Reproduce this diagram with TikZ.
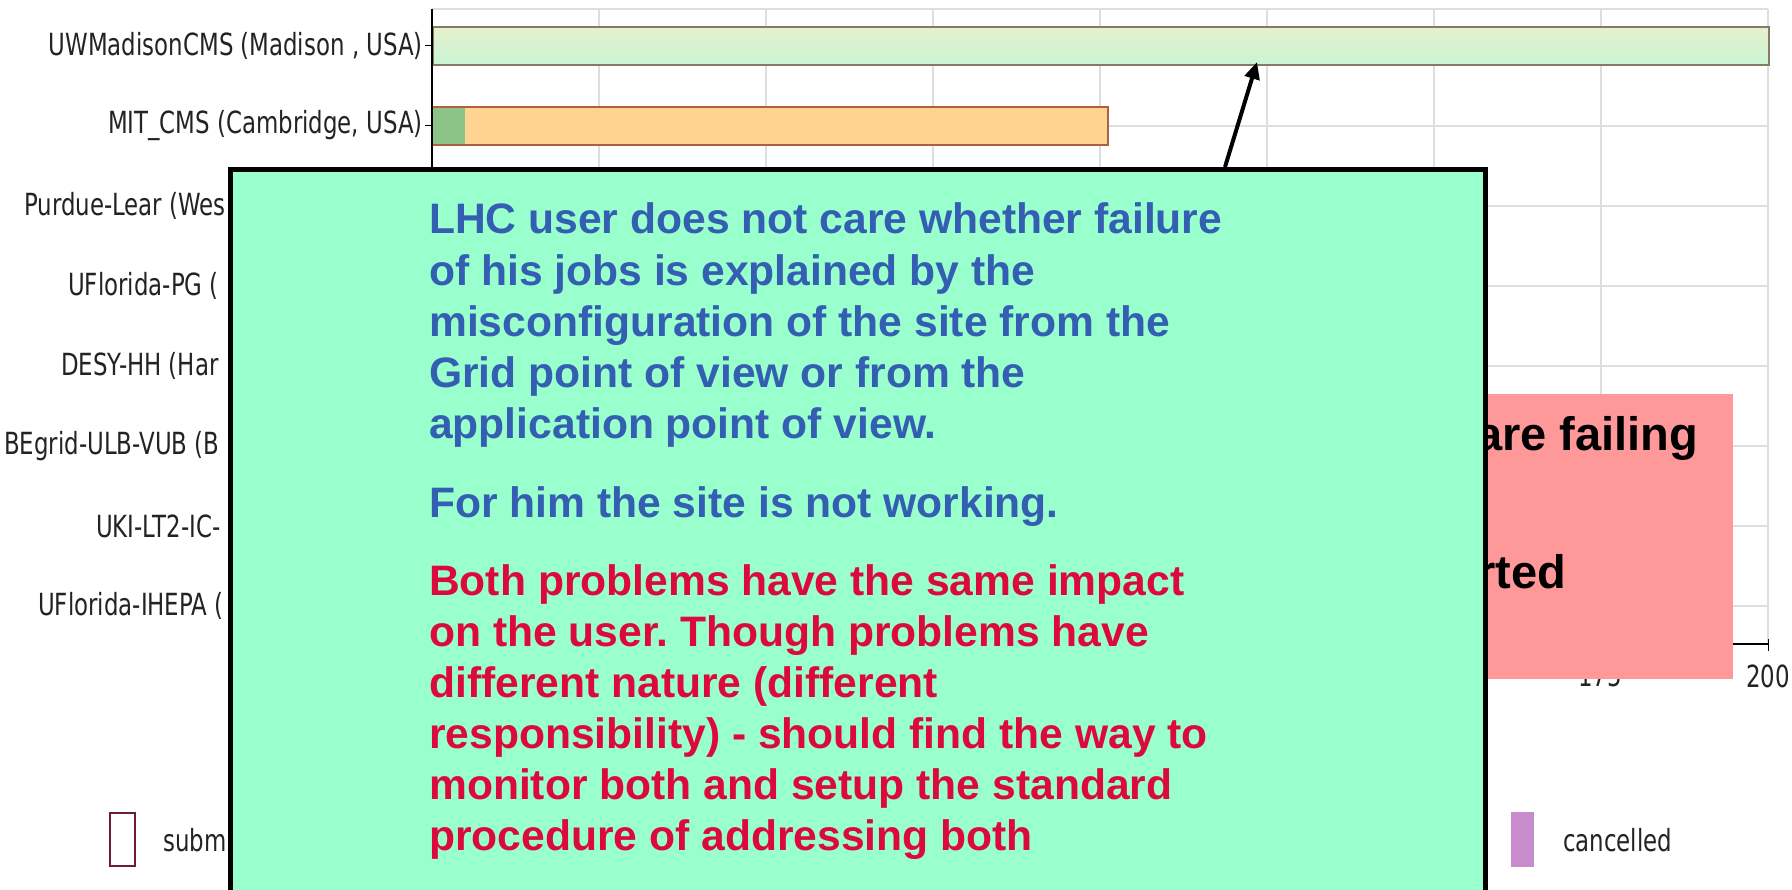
\documentclass[tikz,border=0pt]{standalone}
\usepackage{fontspec}
\setmainfont{Liberation Sans}
\newfontfamily\lblfont[FakeStretch=0.75]{DejaVu Sans}
\usetikzlibrary{arrows.meta}
\definecolor{boxgreen}{RGB}{153,255,204}
\definecolor{boxpink}{RGB}{255,153,153}
\definecolor{txtblue}{RGB}{51,94,178}
\definecolor{txtred}{RGB}{220,10,60}
\definecolor{barborder}{RGB}{133,123,98}
\definecolor{uwtop}{RGB}{230,240,205}
\definecolor{uwbot}{RGB}{200,245,212}
\definecolor{mitborder}{RGB}{176,96,64}
\definecolor{mitfill}{RGB}{255,212,145}
\definecolor{mitgreen}{RGB}{140,195,135}
\definecolor{gridgray}{RGB}{222,222,222}
\definecolor{lblgray}{RGB}{35,35,35}
\definecolor{cancelpurple}{RGB}{200,140,205}
\definecolor{submborder}{RGB}{110,30,50}
\tikzset{
  lbl/.style={font=\lblfont\fontsize{30.5}{36}\selectfont, text=lblgray, inner sep=0pt},
  blueline/.style={anchor=base west, inner sep=0pt, font={\fontsize{42.6}{51}\selectfont\bfseries}, text=txtblue},
  redline/.style={blueline, text=txtred},
  pinkline/.style={anchor=base west, inner sep=0pt, font={\fontsize{47}{56}\selectfont\bfseries}, text=black},
  gridline/.style={draw=gridgray, line width=1.2pt},
  axisline/.style={draw=black, line width=1.5pt},
  tickline/.style={draw=black, line width=1pt},
}
\frenchspacing
\begin{document}
\begin{tikzpicture}[x=1pt,y=-1pt]
\useasboundingbox (0,0) rectangle (1792,890);
\clip (0,0) rectangle (1792,890);
\fill[white] (0,0) rectangle (1792,890);
% grid
\foreach \k in {1,...,8} \draw[gridline] (432+167*\k,9) -- (432+167*\k,644);
\foreach \i in {1,...,7} \draw[gridline] (432,46+80*\i) -- (1768,46+80*\i);
\draw[gridline] (432,9) -- (1768,9);
% bars
\node[draw=barborder, line width=1.5pt, top color=uwtop, bottom color=uwbot, minimum width=1336pt, minimum height=38pt, anchor=west, inner sep=0pt] (uwbar) at (432,46) {};
\node[draw=mitborder, line width=1.5pt, fill=mitfill, minimum width=675pt, minimum height=38pt, anchor=west, inner sep=0pt] (mitbar) at (432,126) {};
\node[fill=mitgreen, minimum width=32pt, minimum height=36pt, anchor=west, inner sep=0pt] (mitok) at (433,126) {};
% axes
\draw[axisline] (432,9) -- (432,644) -- (1768,644);
\foreach \k in {0,...,8} \draw[tickline] (432+167*\k,639) -- (432+167*\k,651);
\foreach \i in {0,...,7} \draw[tickline] (425,46+80*\i) -- (432,46+80*\i);
% row labels
\node[lbl, anchor=east] (l1) at (423,46) {UWMadisonCMS (Madison , USA)};
\node[lbl, anchor=east] (l2) at (423,126) {MIT\_CMS (Cambridge, USA)};
\node[lbl, anchor=west] (l3) at (24,206) {Purdue-Lear (Wes};
\node[lbl, anchor=west] (l4) at (68,286) {UFlorida-PG (};
\node[lbl, anchor=west] (l5) at (61,366) {DESY-HH (Har};
\node[lbl, anchor=west] (l6) at (4,446) {BEgrid-ULB-VUB (B};
\node[lbl, anchor=west] (l7) at (96,526) {UKI-LT2-IC-};
\node[lbl, anchor=west] (l8) at (38,606) {UFlorida-IHEPA (};
% x tick labels
\node[lbl] (x175) at (1600,676) {175};
\node[lbl] (x200) at (1768,676) {200};
% legend
\node[draw=submborder, line width=2pt, fill=white, minimum width=25pt, minimum height=53pt, inner sep=0pt] (legsub) at (122.5,839.5) {};
\node[lbl, anchor=base west] (legsubt) at (163,851) {subm};
\node[fill=cancelpurple, minimum width=23pt, minimum height=55pt, inner sep=0pt] (legcan) at (1522.5,839.5) {};
\node[lbl, anchor=base west] (legcant) at (1563,851) {cancelled};
% pink box
\node[fill=boxpink, minimum width=433pt, minimum height=285pt, anchor=north west, inner sep=0pt] (pbox) at (1300,394) {};
\node[pinkline] (p1) at (1476,451) {are failing};
\node[pinkline] (p2) at (1477,588) {rted};
% arrow
\coordinate (atail) at (1225,167);
\coordinate (atip) at (1257,62);
\draw[line width=4pt, -{Triangle[length=17pt,width=15pt]}] (atail) -- (atip);
% green box
\node[draw=black, line width=5pt, fill=boxgreen, anchor=north west, minimum width=1255pt, minimum height=760pt, inner sep=0pt] (gbox) at (227.5,167.5) {};
\node[blueline] (b1) at (429,234) {LHC user does not care whether failure};
\node[blueline] (b2) at (429,285.5) {of his jobs is explained by the};
\node[blueline] (b3) at (429,337) {misconfiguration of the site from the};
\node[blueline] (b4) at (429,388) {Grid point of view or from the};
\node[blueline] (b5) at (429,439) {application point of view.};
\node[blueline] (b6) at (429,517) {For him the site is not working.};
\node[redline] (r1) at (429,595) {Both problems have the same impact};
\node[redline] (r2) at (429,646) {on the user. Though problems have};
\node[redline] (r3) at (429,697) {different nature (different};
\node[redline] (r4) at (429,748) {responsibility) - should find the way to};
\node[redline] (r5) at (429,799) {monitor both and setup the standard};
\node[redline] (r6) at (429,850) {procedure of addressing both};
\end{tikzpicture}
\end{document}
